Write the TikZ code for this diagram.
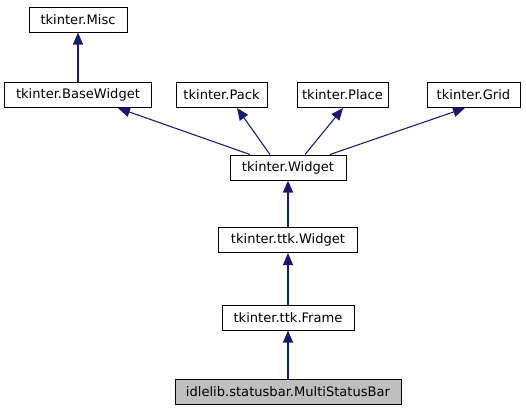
\documentclass[tikz,border=0pt]{standalone}
\usepackage{fontspec}
\setmainfont{DejaVu Sans}
\usetikzlibrary{arrows.meta,calc}
\definecolor{edgeblue}{HTML}{191970}
\definecolor{boxgray}{HTML}{BFBFBF}
\begin{document}
\begin{tikzpicture}[x=0.75pt,y=-0.75pt,
  cls/.style={draw=black,line width=0.75pt,fill=white,inner sep=0pt,
    minimum height=25*0.75pt,font=\fontsize{9.8pt}{11pt}\selectfont},
  inh/.style={draw=edgeblue,line width=0.8pt,
    -{Triangle[length=9pt,width=7.5pt,fill=edgeblue]}}]
\useasboundingbox (0,0) rectangle (526,411);
\node[cls,minimum width=98*0.75pt] (misc) at (78,19.5) {tkinter.Misc};
\node[cls,minimum width=147*0.75pt] (base) at (78,95) {tkinter.BaseWidget};
\node[cls,minimum width=91*0.75pt] (pack) at (221.5,95) {tkinter.Pack};
\node[cls,minimum width=91*0.75pt] (place) at (342.5,95) {tkinter.Place};
\node[cls,minimum width=93*0.75pt] (grid) at (473.5,95) {tkinter.Grid};
\node[cls,minimum width=116*0.75pt] (widget) at (288,167.5) {tkinter.Widget};
\node[cls,minimum width=139*0.75pt] (ttkw) at (288,240) {tkinter.ttk.Widget};
\node[cls,minimum width=132*0.75pt] (frame) at (288,317.5) {tkinter.ttk.Frame};
\node[cls,fill=boxgray,minimum width=226*0.75pt] (msb) at (288,391.5) {idlelib.statusbar.MultiStatusBar};
\draw[inh] (base.north) -- (misc.south);
\draw[inh] ($(widget.north)+(-38,0)$) -- ($(base.south)+(40,0)$);
\draw[inh] ($(widget.north)+(-18,0)$) -- ($(pack.south)+(15.5,0)$);
\draw[inh] ($(widget.north)+(17,0)$) -- ($(place.south)+(0.5,0)$);
\draw[inh] ($(widget.north)+(42,0)$) -- ($(grid.south)+(-8.5,0)$);
\draw[inh] (ttkw.north) -- (widget.south);
\draw[inh] (frame.north) -- (ttkw.south);
\draw[inh] (msb.north) -- (frame.south);
\end{tikzpicture}
\end{document}
